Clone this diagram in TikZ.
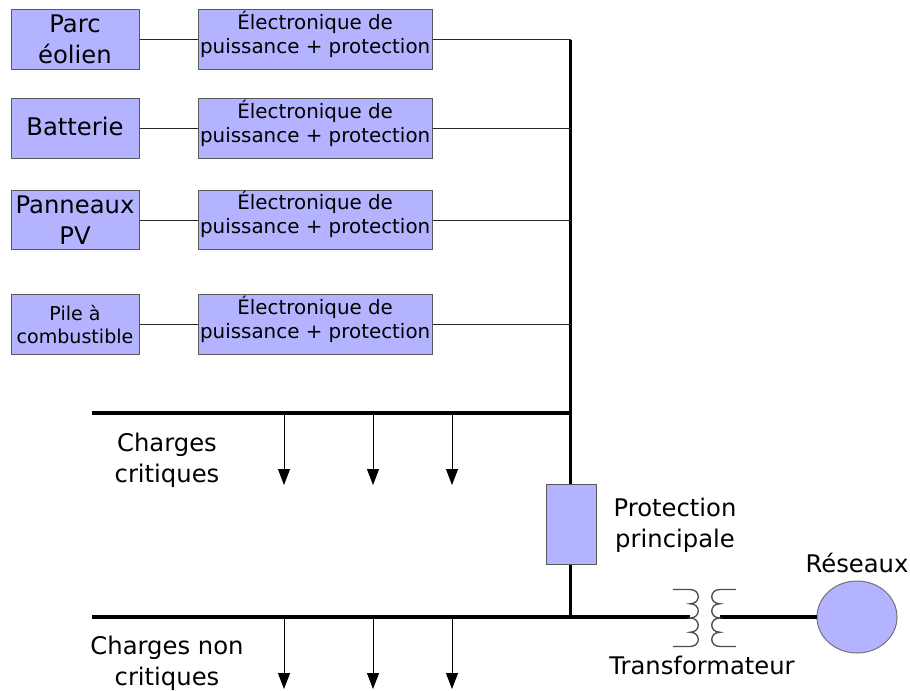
\documentclass[tikz,border=0pt]{standalone}
\usepackage{fontspec}
\setmainfont{DejaVu Sans}
\usetikzlibrary{positioning, arrows.meta, shapes.geometric}
\definecolor{boxblue}{HTML}{B3B3FF}

\newcommand{\lift}[2]{\raisebox{#1}[0pt][0pt]{#2}}
\newcommand{\elecText}{\lift{-0.6pt}{\begin{tabular}{@{}c@{}}Électronique de\\puissance + protection\end{tabular}}}

\begin{document}
\begin{tikzpicture}[x=0.75pt, y=-0.75pt, node distance=43.5pt,
		src/.style={rectangle, draw=black!65, fill=boxblue, line width=0.75pt, minimum width=96pt, minimum height=44.6pt, inner sep=0pt, align=center, font=\fontsize{18.2}{23}\selectfont},
		elec/.style={rectangle, draw=black!65, fill=boxblue, line width=0.75pt, minimum width=175.75pt, minimum height=44.6pt, inner sep=0pt, font=\fontsize{14.9}{18}\selectfont},
		wire/.style={draw=black!85, line width=0.7pt},
		bus/.style={draw=black, line width=2.3pt},
		load/.style={draw=black, line width=0.7pt, -{Triangle[length=12pt, width=9pt]}},
		coil/.style={draw=black!70, line width=1pt},
		lbl/.style={align=center, font=\fontsize{18.2}{23}\selectfont}]
	\useasboundingbox (0,0) rectangle (910,690);
	\node[src] (S1) at (75,39.5) {Parc\\éolien}; \node[elec] (E1) [right=of S1] {\elecText} edge[wire] (S1);
	\node[src] (S2) at (75,128.5) {\lift{-5.5pt}{Batterie}}; \node[elec] (E2) [right=of S2] {\elecText} edge[wire] (S2);
	\node[src] (S3) at (75,220) {Panneaux\\PV}; \node[elec] (E3) [right=of S3] {\elecText} edge[wire] (S3);
	\node[src, font=\fontsize{14.3}{17.5}\selectfont] (S4) at (75,324.5) {Pile à\\combustible}; \node[elec] (E4) [right=of S4] {\elecText} edge[wire] (S4);
	% barres
	\coordinate (top) at (570.5,40);
	\coordinate (crit) at (570.5,413);
	\coordinate (main) at (570.5,617);
	\coordinate (critEnd) at (92,413);
	\coordinate (mainEnd) at (92,617);
	\node[rectangle, draw=black!65, fill=boxblue, line width=0.75pt, minimum width=37.5pt, minimum height=60pt, inner sep=0pt] (prot) at (571,524) {};
	\node[ellipse, draw=black!55, fill=boxblue, line width=0.75pt, inner sep=0pt, minimum width=60pt, minimum height=54pt] (net) at (857,617) {};
	\draw[bus] (top) -- (prot.north -| top);
	\draw[bus] (prot.south -| main) -- (main);
	\draw[bus] (critEnd) -- (crit);
	\coordinate (coilL) at (690,617);
	\coordinate (coilR) at (720,617);
	\draw[bus] (mainEnd) -- (coilL);
	\draw[bus] (coilR) -- (net.west);
	\foreach \n in {1,...,4} \draw[wire] (E\n) -- (E\n -| top);
	% charges
	\foreach \xpos in {284,373,452} {
		\draw[load] (\xpos,413) -- (\xpos,485);
		\draw[load] (\xpos,617) -- (\xpos,689);
	}
	% transformateur
	\draw[coil] (673,589.5) -- (690,589.5) foreach \k in {0,1,2,3} {
		.. controls (701,{589.5+14.25*\k}) and (701,{603.75+14.25*\k}) .. (690,{603.75+14.25*\k})} -- (673,646.5);
	\draw[coil] (736,589.5) -- (720,589.5) foreach \k in {0,1,2,3} {
		.. controls (709,{589.5+14.25*\k}) and (709,{603.75+14.25*\k}) .. (720,{603.75+14.25*\k})} -- (736,646.5);
	% textes
	\node[lbl] (cc) at (167,460) {Charges\\critiques};
	\node[lbl] (cn) at (167,663.5) {Charges non\\critiques};
	\node[lbl] (pp) at (675,525) {Protection\\principale};
	\node[lbl] (re) at (857,563) {Réseaux};
	\node[lbl] (tr) at (702,665) {Transformateur};
\end{tikzpicture}
\end{document}
